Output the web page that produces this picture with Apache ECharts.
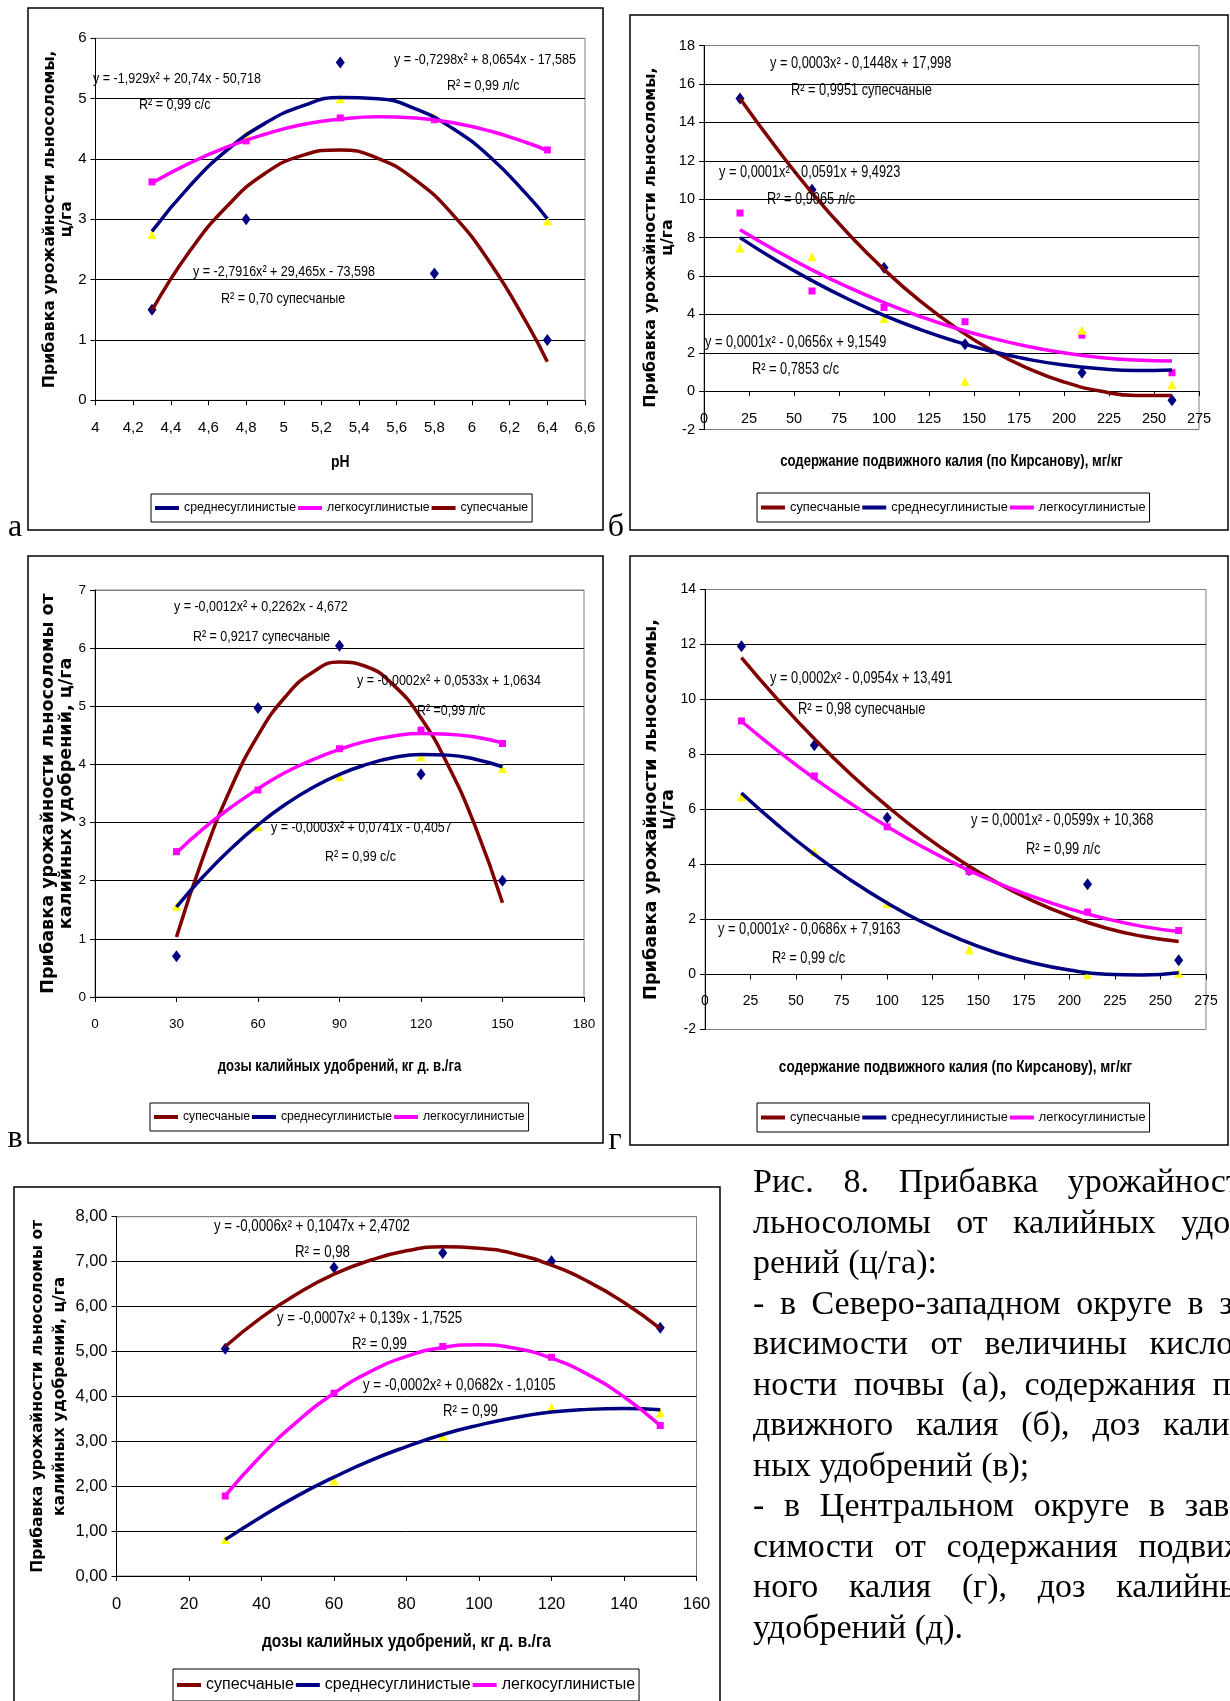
<!DOCTYPE html>
<html lang="ru">
<head>
<meta charset="utf-8">
<title>Рис. 8</title>
<script src="https://cdn.jsdelivr.net/npm/echarts@6/dist/echarts.min.js"></script>
<style>
html,body{margin:0;padding:0;background:#fff;width:1230px;height:1701px;overflow:hidden;}
#chart{position:absolute;left:0;top:0;width:1230px;height:1701px;}
#caption{position:absolute;left:753px;top:1161px;width:506px;font-family:'Liberation Serif','Times New Roman',serif;font-size:34px;line-height:40.5px;color:#000;}
#caption .ln{display:flex;justify-content:space-between;white-space:nowrap;height:40.5px;}
#caption .ln.left{display:block;}
</style>
</head>
<body>
<div id="chart"></div>
<div id="caption"></div>
<script>
// ================= DATA =================
// (а) pH
const A_X_RANGE = [4, 6.6, 0.2];
const A_Y_RANGE = [0, 6, 1];
const A_X = [4.3, 4.8, 5.3, 5.8, 6.4];
const A_DIAMOND = [1.5, 3.0, 5.6, 2.1, 1.0];
const A_SQUARE = [3.62, 4.3, 4.68, 4.65, 4.15];
const A_TRIANGLE = [2.75, 4.4, 5.0, 4.7, 2.97];
const A_TX = [4.3, 4.5, 4.7, 4.9, 5.1, 5.3, 5.5, 5.7, 5.9, 6.1, 6.3, 6.4];
const A_TR_SRED = [2.80, 3.55, 4.15, 4.59, 4.88, 5.02, 5.00, 4.83, 4.50, 4.02, 3.38, 3.01];
const A_TR_LEGK = [3.60, 3.93, 4.20, 4.41, 4.57, 4.66, 4.70, 4.68, 4.60, 4.46, 4.26, 4.14];
const A_TR_SUP = [1.49, 2.47, 3.22, 3.76, 4.06, 4.15, 4.01, 3.65, 3.07, 2.26, 1.23, 0.64];
const A_EQ = ['y = -1,929x² + 20,74x - 50,718', 'R² = 0,99 с/с', 'y = -0,7298x² + 8,0654x - 17,585', 'R² = 0,99 л/с', 'y = -2,7916x² + 29,465x - 73,598', 'R² = 0,70 супесчаные'];

// (б) K content, North-West
const B_X_RANGE = [0, 275, 25];
const B_Y_RANGE = [-2, 18, 2];
const B_X = [20, 60, 100, 145, 210, 260];
const B_DIAMOND = [15.25, 10.49, 6.43, 2.45, 0.96, -0.47];
const B_SQUARE = [9.28, 5.22, 4.36, 3.62, 2.92, 0.96];
const B_TRIANGLE = [7.46, 7.0, 3.79, 0.52, 3.18, 0.33];
const B_TX = [20, 40, 60, 80, 100, 120, 140, 160, 180, 200, 220, 240, 260];
const B_TR_SUP = [15.25, 12.7, 10.33, 8.22, 6.34, 4.7, 3.3, 2.12, 1.19, 0.48, 0.01, -0.22, -0.22];
const B_TR_SRED = [8.0, 6.82, 5.76, 4.80, 3.95, 3.22, 2.59, 2.07, 1.66, 1.36, 1.17, 1.08, 1.11];
const B_TR_LEGK = [8.41, 7.32, 6.32, 5.42, 4.61, 3.90, 3.28, 2.76, 2.33, 2.00, 1.76, 1.62, 1.57];
const B_EQ = ['y = 0,0003x² - 0,1448x + 17,998', 'R² = 0,9951 супесчаные', 'y = 0,0001x² - 0,0591x + 9,4923', 'R² = 0,9065 л/с', 'y = 0,0001x² - 0,0656x + 9,1549', 'R² = 0,7853 с/с'];

// (в) doses, North-West
const V_X_RANGE = [0, 180, 30];
const V_Y_RANGE = [0, 7, 1];
const V_X = [30, 60, 90, 120, 150];
const V_DIAMOND = [0.70, 4.97, 6.04, 3.83, 2.0];
const V_SQUARE = [2.5, 3.56, 4.27, 4.59, 4.36];
const V_TRIANGLE = [1.56, 2.93, 3.79, 4.13, 3.93];
const V_TX = [30, 40, 50, 60, 70, 80, 90, 100, 110, 120, 130, 140, 150];
const V_TR_SUP = [1.03, 2.43, 3.59, 4.50, 5.16, 5.58, 5.76, 5.68, 5.36, 4.80, 3.98, 2.93, 1.62];
const V_TR_SRED = [1.55, 2.08, 2.55, 2.96, 3.31, 3.60, 3.83, 4.00, 4.12, 4.17, 4.16, 4.09, 3.96];
const V_TR_LEGK = [2.48, 2.90, 3.26, 3.58, 3.86, 4.08, 4.26, 4.40, 4.49, 4.53, 4.52, 4.47, 4.37];
const V_EQ = ['y = -0,0012x² + 0,2262x - 4,672', 'R² = 0,9217 супесчаные', 'y = -0,0002x² + 0,0533x + 1,0634', 'R² =0,99 л/с', 'y = -0,0003x² + 0,0741x - 0,4057', 'R² = 0,99 с/с'];

// (г) K content, Central
const G_X_RANGE = [0, 275, 25];
const G_Y_RANGE = [-2, 14, 2];
const G_X = [20, 60, 100, 145, 210, 260];
const G_DIAMOND = [11.94, 8.34, 5.70, 3.79, 3.28, 0.52];
const G_SQUARE = [9.22, 7.22, 5.37, 3.75, 2.27, 1.6];
const G_TRIANGLE = [6.46, 4.46, 2.58, 0.9, 0.0, 0.05];
const G_TX = [20, 40, 60, 80, 100, 120, 140, 160, 180, 200, 220, 240, 260];
const G_TR_SUP = [11.52, 9.99, 8.57, 7.28, 6.12, 5.07, 4.15, 3.35, 2.68, 2.13, 1.69, 1.39, 1.20];
const G_TR_SRED = [6.60, 5.43, 4.37, 3.43, 2.60, 1.88, 1.28, 0.79, 0.42, 0.16, 0.01, -0.02, 0.06];
const G_TR_LEGK = [9.21, 8.13, 7.13, 6.22, 5.38, 4.62, 3.94, 3.34, 2.83, 2.39, 2.03, 1.75, 1.56];
const G_EQ = ['y = 0,0002x² - 0,0954x + 13,491', 'R² = 0,98 супесчаные', 'y = 0,0001x² - 0,0599x + 10,368', 'R² = 0,99 л/с', 'y = 0,0001x² - 0,0686x + 7,9163', 'R² = 0,99 с/с'];

// (д) doses, Central
const D_X_RANGE = [0, 160, 20];
const D_Y_RANGE = [0, 8, 1];
const D_X = [30, 60, 90, 120, 150];
const D_DIAMOND = [5.06, 6.87, 7.19, 7.01, 5.53];
const D_SQUARE = [1.78, 4.07, 5.11, 4.87, 3.35];
const D_TRIANGLE = [0.81, 2.12, 3.11, 3.76, 3.63];
const D_TX = [30, 40, 50, 60, 70, 80, 90, 100, 110, 120, 130, 140, 150];
const D_TR_SUP = [5.11, 5.76, 6.29, 6.72, 7.03, 7.24, 7.33, 7.30, 7.17, 6.92, 6.56, 6.09, 5.51];
const D_TR_SRED = [0.81, 1.32, 1.79, 2.20, 2.57, 2.88, 3.15, 3.36, 3.53, 3.65, 3.71, 3.73, 3.70];
const D_TR_LEGK = [1.79, 2.69, 3.45, 4.07, 4.55, 4.89, 5.09, 5.15, 5.07, 4.85, 4.49, 3.99, 3.35];
const D_EQ = ['y = -0,0006x² + 0,1047x + 2,4702', 'R² = 0,98', 'y = -0,0007x² + 0,139x - 1,7525', 'R² = 0,99', 'y = -0,0002x² + 0,0682x - 1,0105', 'R² = 0,99'];

// texts
const SERIES_NAMES = {sup: 'супесчаные', sred: 'среднесуглинистые', legk: 'легкосуглинистые'};
const Y_TITLE_SHORT = ['Прибавка урожайности льносоломы,', 'ц/га'];
const Y_TITLE_LONG = ['Прибавка урожайности льносоломы от', 'калийных удобрений, ц/га'];
const X_TITLE_PH = 'pH';
const X_TITLE_K = 'содержание подвижного калия (по Кирсанову), мг/кг';
const X_TITLE_DOSE = 'дозы калийных удобрений, кг д. в./га';
const PANEL_TAGS = ['а', 'б', 'в', 'г'];
const CAPTION = [
  ['Рис. 8. Прибавка урожайности', true],
  ['льносоломы от калийных удоб-', true],
  ['рений (ц/га):', false],
  ['- в Северо-западном округе в за-', true],
  ['висимости от величины кислот-', true],
  ['ности почвы (а), содержания по-', true],
  ['движного калия (б), доз калий-', true],
  ['ных удобрений (в);', false],
  ['- в Центральном округе в зави-', true],
  ['симости от содержания подвиж-', true],
  ['ного калия (г), доз калийных', true],
  ['удобрений (д).', false]
];

// ================= LAYOUT / STYLE =================
const FA = "'Liberation Sans',Arial,sans-serif";
const FB = "'DejaVu Sans','Liberation Sans',sans-serif";
const FS = "'Liberation Serif','Times New Roman',serif";
const NARROW = 0.82;
const COLORS = {sup: '#800000', sred: '#000080', legk: '#FF00FF'};

const PANELS = [
  {X: A_X, D: A_DIAMOND, S: A_SQUARE, T: A_TRIANGLE, TX: A_TX, TR: {sred: A_TR_SRED, legk: A_TR_LEGK, sup: A_TR_SUP},
   XR: A_X_RANGE, YR: A_Y_RANGE, EQ: A_EQ, XT: X_TITLE_PH, YT: Y_TITLE_SHORT, LEG: ['sred', 'legk', 'sup'], yDec: 0,
   L: {grid: [95.5, 38.3, 489.5, 362], frame: [28, 8, 575, 522], fs: {tick: 15, eq: 15.3, leg: 12.3, xt: 17, yt: 15.7},
       leg: [151, 494], ytX: [50, 67], xtY: 462, tag: [15, 528],
       eqPos: [[93, 79], [139, 105], [394, 60], [447, 86], [193, 272], [221, 299]]}},
  {X: B_X, D: B_DIAMOND, S: B_SQUARE, T: B_TRIANGLE, TX: B_TX, TR: {sup: B_TR_SUP, sred: B_TR_SRED, legk: B_TR_LEGK},
   XR: B_X_RANGE, YR: B_Y_RANGE, EQ: B_EQ, XT: X_TITLE_K, YT: Y_TITLE_SHORT, LEG: ['sup', 'sred', 'legk'], yDec: 0,
   L: {grid: [704, 45.6, 495, 384], frame: [630, 15, 598, 515], fs: {tick: 14.5, eq: 15.6, leg: 12.8, xt: 16, yt: 15.8},
       leg: [757, 493], ytX: [651, 668], xtY: 462, tag: [616, 528],
       eqPos: [[770, 64], [791, 91], [719, 173], [767, 200], [705, 343], [752, 370]]}},
  {X: V_X, D: V_DIAMOND, S: V_SQUARE, T: V_TRIANGLE, TX: V_TX, TR: {sup: V_TR_SUP, sred: V_TR_SRED, legk: V_TR_LEGK},
   XR: V_X_RANGE, YR: V_Y_RANGE, EQ: V_EQ, XT: X_TITLE_DOSE, YT: Y_TITLE_LONG, LEG: ['sup', 'sred', 'legk'], yDec: 0,
   L: {grid: [95, 590, 489, 407], frame: [28, 556, 575, 587], fs: {tick: 13.5, eq: 15.2, leg: 12.2, xt: 16, yt: 17.6},
       leg: [150, 1103], ytX: [48, 66], xtY: 1067, tag: [15, 1139],
       eqPos: [[174, 607], [193, 637], [357, 681], [417, 711], [271, 828], [325, 857]]}},
  {X: G_X, D: G_DIAMOND, S: G_SQUARE, T: G_TRIANGLE, TX: G_TX, TR: {sup: G_TR_SUP, sred: G_TR_SRED, legk: G_TR_LEGK},
   XR: G_X_RANGE, YR: G_Y_RANGE, EQ: G_EQ, XT: X_TITLE_K, YT: Y_TITLE_SHORT, LEG: ['sup', 'sred', 'legk'], yDec: 0,
   L: {grid: [705, 589.5, 501, 440], frame: [630, 556, 598, 589], fs: {tick: 14, eq: 15.7, leg: 12.8, xt: 16.5, yt: 17.7},
       leg: [757, 1103], ytX: [651, 668], xtY: 1067, tag: [615, 1141],
       eqPos: [[770, 679], [798, 710], [971, 821], [1026, 850], [718, 930], [772, 959]]}},
  {X: D_X, D: D_DIAMOND, S: D_SQUARE, T: D_TRIANGLE, TX: D_TX, TR: {sup: D_TR_SUP, sred: D_TR_SRED, legk: D_TR_LEGK},
   XR: D_X_RANGE, YR: D_Y_RANGE, EQ: D_EQ, XT: X_TITLE_DOSE, YT: Y_TITLE_LONG, LEG: ['sup', 'sred', 'legk'], yDec: 2,
   L: {grid: [116.5, 1216.7, 580, 359.3], frame: [14, 1187, 706, 530], fs: {tick: 16.5, eq: 16.2, leg: 16, xt: 19, yt: 15.5},
       leg: [173, 1669], ytX: [38, 60], xtY: 1642, tag: null,
       eqPos: [[214, 1227], [295, 1253], [277, 1319], [352, 1345], [363, 1386], [443, 1412]]}}
];

function pairs(xs, ys) { return xs.map((x, i) => [x, ys[i]]); }
function comma(v, dec) { return (dec > 0 ? v.toFixed(dec) : String(Math.round(v * 10) / 10)).replace('.', ','); }

const option = {animation: false, grid: [], xAxis: [], yAxis: [], series: [], legend: [], graphic: []};

PANELS.forEach((p, i) => {
  const L = p.L;
  const [gl, gt, gw, gh] = L.grid;
  option.grid.push({left: gl, top: gt, width: gw, height: gh, show: true, borderColor: '#808080', borderWidth: 1,
    backgroundColor: 'transparent', containLabel: false, outerBoundsMode: 'none'});
  // x axis crosses the y axis at zero
  const zeroOffset = p.YR[0] < 0 ? -(0 - p.YR[0]) / (p.YR[1] - p.YR[0]) * gh : 0;
  option.xAxis.push({type: 'value', gridIndex: i, min: p.XR[0], max: p.XR[1], interval: p.XR[2],
    position: 'bottom', offset: zeroOffset,
    axisLine: {show: true, onZero: false, lineStyle: {color: '#000', width: 1}},
    axisTick: {show: true, inside: false, length: 5, lineStyle: {color: '#000', width: 1}},
    axisLabel: {show: true, color: '#000', fontFamily: FA, fontSize: L.fs.tick, margin: 20, hideOverlap: false,
      showMinLabel: true, showMaxLabel: true, formatter: v => comma(v, 0)},
    splitLine: {show: false}});
  const nLines = Math.round((p.YR[1] - p.YR[0]) / p.YR[2]) + 1;
  const splitColors = Array.from({length: nLines}, (_, k) =>
    (k === nLines - 1 || (p.YR[0] < 0 && k === 0)) ? '#808080' : '#000');
  option.yAxis.push({type: 'value', gridIndex: i, min: p.YR[0], max: p.YR[1], interval: p.YR[2],
    axisLine: {show: true, onZero: false, lineStyle: {color: '#000', width: 1}},
    axisTick: {show: true, inside: false, length: 5, lineStyle: {color: '#000', width: 1}},
    axisLabel: {show: true, color: '#000', fontFamily: FA, fontSize: L.fs.tick, margin: 9, hideOverlap: false,
      showMinLabel: true, showMaxLabel: true, formatter: v => comma(v, p.yDec)},
    splitLine: {show: true, lineStyle: {color: splitColors, width: 1}}});

  // data markers
  [['diamond', p.D, '#000080', [9, 12]], ['rect', p.S, '#FF00FF', 7], ['triangle', p.T, '#FFFF00', 9]].forEach((m, k) => {
    option.series.push({type: 'scatter', name: 'pts' + i + '_' + k, xAxisIndex: i, yAxisIndex: i,
      data: pairs(p.X, m[1]), symbol: m[0], symbolSize: m[3], itemStyle: {color: m[2], opacity: 1}, z: 2, silent: true});
  });
  // trend lines
  ['sup', 'sred', 'legk'].forEach(k => {
    option.series.push({type: 'line', name: SERIES_NAMES[k], xAxisIndex: i, yAxisIndex: i,
      data: pairs(p.TX, p.TR[k]), smooth: 0.5, showSymbol: false, symbol: 'none',
      lineStyle: {color: COLORS[k], width: 3.5}, itemStyle: {color: COLORS[k]}, z: 3, silent: true});
  });
  // legend
  option.legend.push({show: true, left: L.leg[0], top: L.leg[1], orient: 'horizontal',
    data: p.LEG.map(k => SERIES_NAMES[k]), icon: 'rect', itemWidth: 24, itemHeight: 4, itemGap: 2,
    padding: [8, 4, 8, 4], borderColor: '#000', borderWidth: 1, backgroundColor: '#fff', borderRadius: 0,
    selectedMode: false, textStyle: {fontFamily: FA, fontSize: L.fs.leg, color: '#000'}});

  // frame
  option.graphic.push({type: 'rect', shape: {x: L.frame[0], y: L.frame[1], width: L.frame[2], height: L.frame[3]},
    style: {fill: 'none', stroke: '#000', lineWidth: 1.5}, z: 0, silent: true});
  // equations (narrow sans)
  p.EQ.forEach((t, k) => {
    option.graphic.push({type: 'text', x: L.eqPos[k][0], y: L.eqPos[k][1], scaleX: NARROW, z: 10, silent: true,
      style: {text: t, fill: '#000', font: L.fs.eq + 'px ' + FA, textAlign: 'left', textVerticalAlign: 'middle'}});
  });
  // y title (two lines, rotated)
  p.YT.forEach((t, k) => {
    option.graphic.push({type: 'text', x: L.ytX[k], y: gt + gh / 2, rotation: Math.PI / 2, z: 10, silent: true,
      style: {text: t, fill: '#000', font: 'bold ' + L.fs.yt + 'px ' + FB, textAlign: 'center', textVerticalAlign: 'middle'}});
  });
  // x title
  option.graphic.push({type: 'text', x: gl + gw / 2, y: L.xtY, scaleX: NARROW, z: 10, silent: true,
    style: {text: p.XT, fill: '#000', font: 'bold ' + L.fs.xt + 'px ' + FA, textAlign: 'center', textVerticalAlign: 'middle'}});
  // panel tag
  if (L.tag) {
    option.graphic.push({type: 'text', x: L.tag[0], y: L.tag[1], z: 10, silent: true,
      style: {text: PANEL_TAGS[i], fill: '#000', font: '32px ' + FS, textAlign: 'center', textVerticalAlign: 'middle'}});
  }
});

const chart = echarts.init(document.getElementById('chart'), null, {renderer: 'canvas', width: 1230, height: 1701});
chart.setOption(option);

// caption
const cap = document.getElementById('caption');
CAPTION.forEach(([line, just]) => {
  const d = document.createElement('div');
  d.className = just ? 'ln' : 'ln left';
  if (just) {
    line.split(' ').forEach(w => { const s = document.createElement('span'); s.textContent = w; d.appendChild(s); });
  } else {
    d.textContent = line;
  }
  cap.appendChild(d);
});
</script>
</body>
</html>
